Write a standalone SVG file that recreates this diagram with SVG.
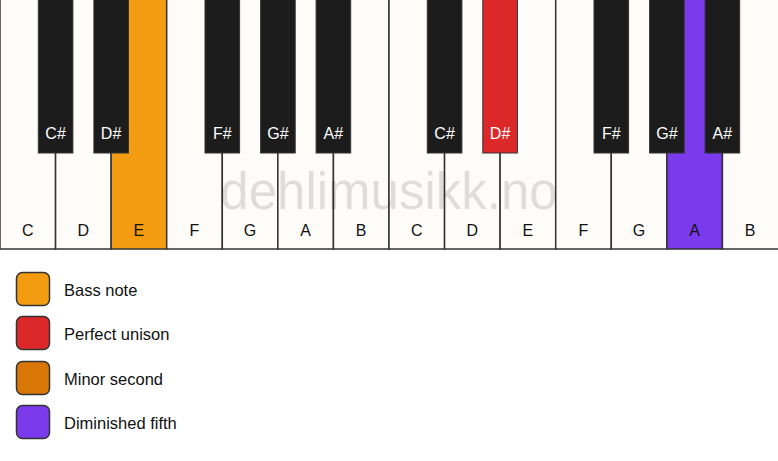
<svg xmlns="http://www.w3.org/2000/svg" width="778" height="461" viewBox="0 0 778 461">
<style>
.w{fill:#fdfcf9;stroke:#333;stroke-width:1.5}
.b{fill:#1c1c1c;stroke:#333;stroke-width:1}
.wl{font-family:"Liberation Sans",Arial,sans-serif;font-size:16px;fill:#111;text-anchor:middle}
.bl{font-family:"Liberation Sans",Arial,sans-serif;font-size:16px;fill:#fff;text-anchor:middle}
.lg{font-family:"Liberation Sans",Arial,sans-serif;font-size:16.5px;fill:#111}
.sw{stroke:#333;stroke-width:1.5}
</style>
<rect width="778" height="461" fill="#ffffff"/>
<g id="white-keys">
<g id="w0"><rect class="w" x="0" y="-2" width="55.57" height="251"/><text class="wl" x="27.8" y="236">C</text></g>
<g id="w1"><rect class="w" x="55.57" y="-2" width="55.57" height="251"/><text class="wl" x="83.4" y="236">D</text></g>
<g id="w2"><rect class="w" x="111.14" y="-2" width="55.57" height="251" style="fill:#f39c12"/><text class="wl" x="138.9" y="236">E</text></g>
<g id="w3"><rect class="w" x="166.71" y="-2" width="55.57" height="251"/><text class="wl" x="194.5" y="236">F</text></g>
<g id="w4"><rect class="w" x="222.29" y="-2" width="55.57" height="251"/><text class="wl" x="250.1" y="236">G</text></g>
<g id="w5"><rect class="w" x="277.86" y="-2" width="55.57" height="251"/><text class="wl" x="305.6" y="236">A</text></g>
<g id="w6"><rect class="w" x="333.43" y="-2" width="55.57" height="251"/><text class="wl" x="361.2" y="236">B</text></g>
<g id="w7"><rect class="w" x="389" y="-2" width="55.57" height="251"/><text class="wl" x="416.8" y="236">C</text></g>
<g id="w8"><rect class="w" x="444.57" y="-2" width="55.57" height="251"/><text class="wl" x="472.4" y="236">D</text></g>
<g id="w9"><rect class="w" x="500.14" y="-2" width="55.57" height="251"/><text class="wl" x="527.9" y="236">E</text></g>
<g id="w10"><rect class="w" x="555.71" y="-2" width="55.57" height="251"/><text class="wl" x="583.5" y="236">F</text></g>
<g id="w11"><rect class="w" x="611.29" y="-2" width="55.57" height="251"/><text class="wl" x="639.1" y="236">G</text></g>
<g id="w12"><rect class="w" x="666.86" y="-2" width="55.57" height="251" style="fill:#7c3aed"/><text class="wl" x="694.6" y="236">A</text></g>
<g id="w13"><rect class="w" x="722.43" y="-2" width="57" height="251"/><text class="wl" x="750.2" y="236">B</text></g>
</g>
<text x="389" y="209" font-family="Liberation Sans,Arial,sans-serif" font-size="51" fill="#000" fill-opacity="0.12" text-anchor="middle">dehlimusikk.no</text>
<g id="black-keys">
<g id="b0"><rect class="b" x="38.3" y="-2" width="34.6" height="155"/><text class="bl" x="55.6" y="139">C#</text></g>
<g id="b1"><rect class="b" x="93.9" y="-2" width="34.6" height="155"/><text class="bl" x="111.1" y="139">D#</text></g>
<g id="b2"><rect class="b" x="205" y="-2" width="34.6" height="155"/><text class="bl" x="222.3" y="139">F#</text></g>
<g id="b3"><rect class="b" x="260.6" y="-2" width="34.6" height="155"/><text class="bl" x="277.9" y="139">G#</text></g>
<g id="b4"><rect class="b" x="316.1" y="-2" width="34.6" height="155"/><text class="bl" x="333.4" y="139">A#</text></g>
<g id="b5"><rect class="b" x="427.3" y="-2" width="34.6" height="155"/><text class="bl" x="444.6" y="139">C#</text></g>
<g id="b6"><rect class="b" x="482.8" y="-2" width="34.6" height="155" style="fill:#dc2828"/><text class="bl" x="500.1" y="139">D#</text></g>
<g id="b7"><rect class="b" x="594" y="-2" width="34.6" height="155"/><text class="bl" x="611.3" y="139">F#</text></g>
<g id="b8"><rect class="b" x="649.6" y="-2" width="34.6" height="155"/><text class="bl" x="666.9" y="139">G#</text></g>
<g id="b9"><rect class="b" x="705.1" y="-2" width="34.6" height="155"/><text class="bl" x="722.4" y="139">A#</text></g>
</g>
<g id="legend">
<g id="lg0"><rect class="sw" x="16.5" y="272.5" width="33" height="33" rx="6" fill="#f39c12"/><text class="lg" x="64" y="295.5">Bass note</text></g>
<g id="lg1"><rect class="sw" x="16.5" y="316.5" width="33" height="33" rx="6" fill="#dc2828"/><text class="lg" x="64" y="339.5">Perfect unison</text></g>
<g id="lg2"><rect class="sw" x="16.5" y="361.5" width="33" height="33" rx="6" fill="#d97706"/><text class="lg" x="64" y="384.5">Minor second</text></g>
<g id="lg3"><rect class="sw" x="16.5" y="405.5" width="33" height="33" rx="6" fill="#7c3aed"/><text class="lg" x="64" y="428.5">Diminished fifth</text></g>
</g>
<g id="connectors"/>
</svg>
